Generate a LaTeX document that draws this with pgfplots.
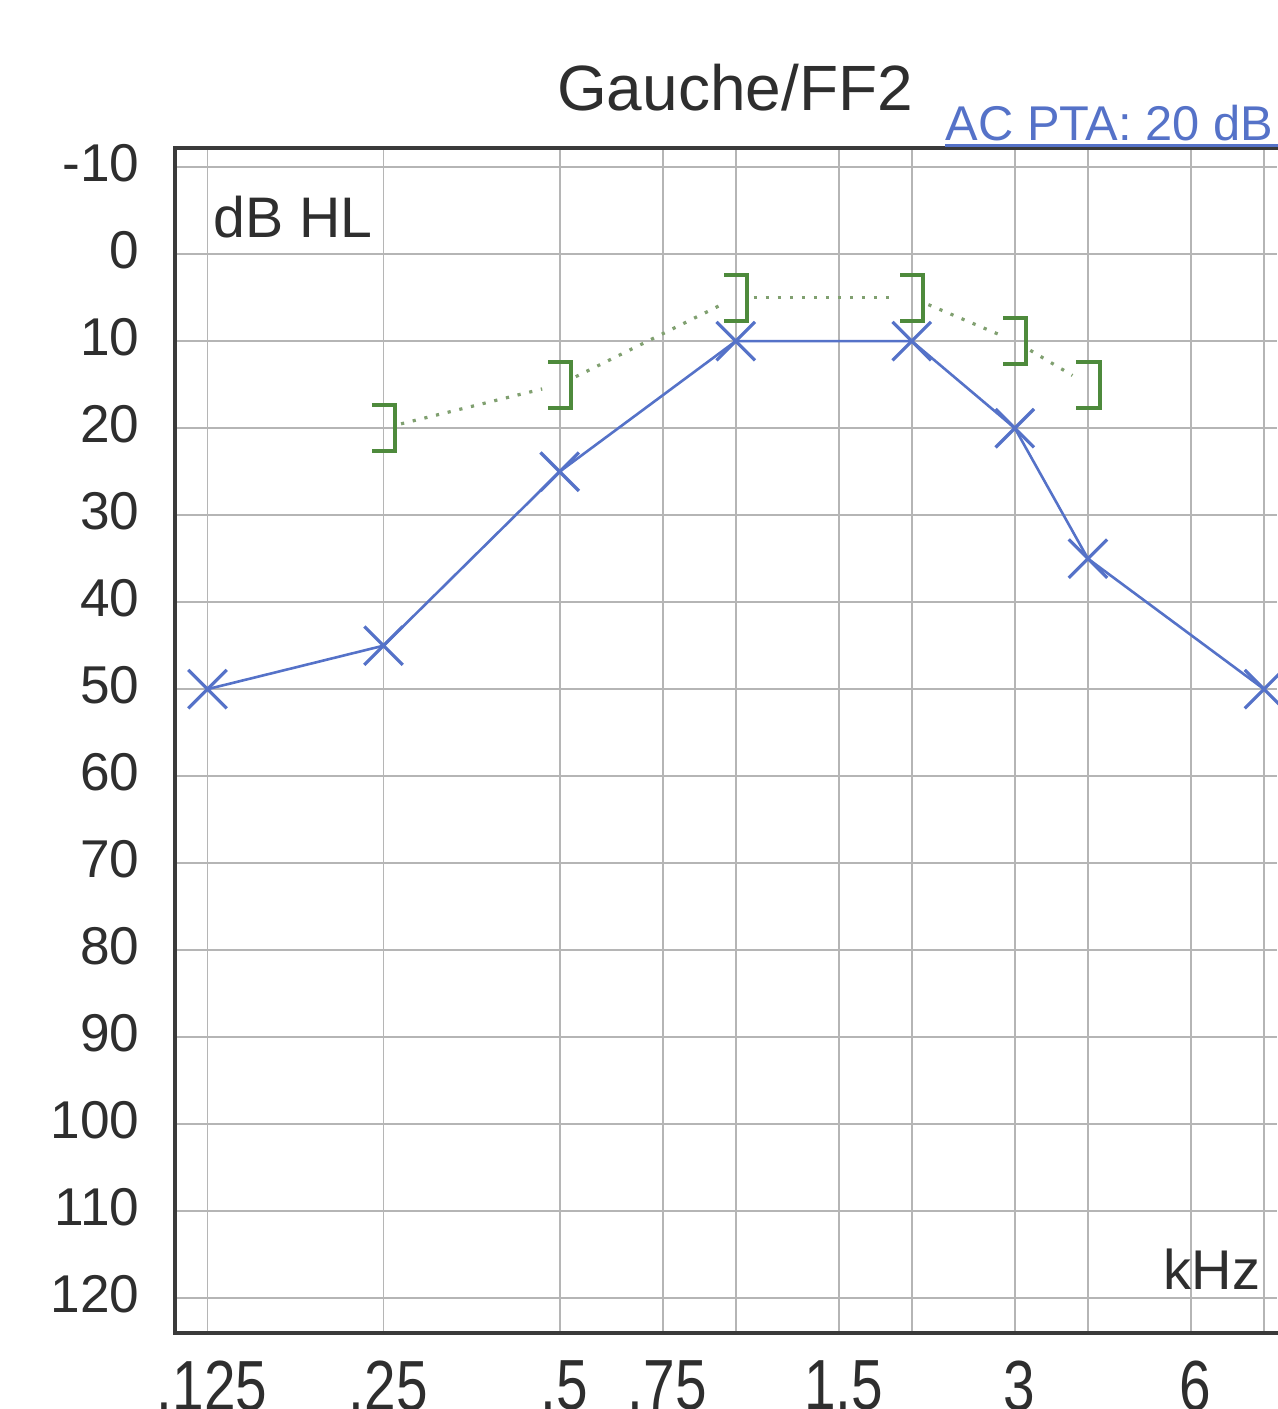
\documentclass[border=0pt]{standalone}
\usepackage{fontspec}
\setmainfont{Liberation Sans}
\usepackage{graphicx}
\usepackage{pgfplots}
\pgfplotsset{compat=1.18}
\definecolor{acblue}{HTML}{5572C8}
\definecolor{bcgreen}{HTML}{4E8A3C}
\definecolor{dotgreen}{HTML}{80A070}
\definecolor{gridgray}{HTML}{B5B5B5}
\definecolor{framegray}{HTML}{3A3A3A}
\definecolor{txt}{HTML}{2E2E2E}
\pgfdeclareplotmark{rbracket}{%
  \pgfpathmoveto{\pgfpoint{-2.9pt}{5.75pt}}%
  \pgfpathlineto{\pgfpoint{2.9pt}{5.75pt}}%
  \pgfpathlineto{\pgfpoint{2.9pt}{-5.75pt}}%
  \pgfpathlineto{\pgfpoint{-2.9pt}{-5.75pt}}%
  \pgfusepathqstroke}
\pgfplotsset{dotseg/.style={dotgreen, line width=0.8pt, dash pattern=on 0.8pt off 2.2pt, shorten <=4.5pt, shorten >=4.5pt, forget plot}}
\newcommand{\tl}[1]{\scalebox{1}[1.25]{#1}}
\begin{document}
\begin{tikzpicture}
\begin{axis}[
  at={(0pt,0pt)}, anchor=south west,
  scale only axis, width=275.5pt, height=296.25pt,
  xmode=log, log basis x=2,
  xmin=0.1100, xmax=8.42,
  y dir=reverse, ymin=-12.2, ymax=124,
  ytick={-10,0,10,20,30,40,50,60,70,80,90,100,110,120},
  yticklabels={-10,0,10,20,30,40,50,60,70,80,90,100,110,120},
  xtick={0.125,0.25,0.5,0.75,1,1.5,2,3,4,6,8},
  xticklabels={\tl{.125},\tl{.25},\tl{.5},\tl{.75},,\tl{1.5},,\tl{3},,\tl{6},},
  grid=major,
  major grid style={gridgray, line width=0.45pt},
  major tick length=0pt,
  axis line style={draw=none},
  tick label style={font=\fontsize{13.3}{16}\selectfont, text=txt},
  yticklabel style={anchor=east, inner sep=0pt, xshift=-8.75pt, yshift=1pt},
  xticklabel style={anchor=north, inner sep=0pt, yshift=-6.75pt, xshift=1.2pt, font=\fontsize{14.2}{17}\selectfont},
]
\addplot[dotseg] coordinates {(0.25,20)(0.5,15)};
\addplot[dotseg] coordinates {(0.5,15)(1,5)};
\addplot[dotseg] coordinates {(1,5)(2,5)};
\addplot[dotseg] coordinates {(2,5)(3,10)};
\addplot[dotseg] coordinates {(3,10)(4,15)};
\addplot[only marks, mark=rbracket, mark options={bcgreen, line width=1pt, solid}] coordinates {(0.25,20)(0.5,15)(1,5)(2,5)(3,10)(4,15)};
\addplot[acblue, line width=0.65pt, mark=x, mark size=6.8pt, mark options={line width=0.8pt, solid}] coordinates {(0.125,50)(0.25,45)(0.5,25)(1,10)(2,10)(3,20)(4,35)(8,50)};
\end{axis}
\node[anchor=base, font=\fontsize{16}{19}\selectfont, text=txt] at (140pt,305.5pt) {Gauche/FF2};
\node[anchor=base west, inner sep=0pt, font=\fontsize{12.2}{14}\selectfont, text=acblue] at (192.5pt,298pt) {AC PTA: 20 dB};
\node[anchor=base west, inner sep=0pt, font=\fontsize{14.3}{17}\selectfont, text=txt] at (9.5pt,273.75pt) {dB HL};
\node[anchor=base west, inner sep=0pt, font=\fontsize{14}{17}\selectfont, text=txt] at (247pt,10.75pt) {kHz};
\draw[framegray, line width=1pt] (280pt,296.25pt) -- (0pt,296.25pt) -- (0pt,0pt) -- (280pt,0pt);
\draw[acblue, line width=0.6pt] (192.5pt,296.9pt) -- (280pt,296.9pt);
\pgfresetboundingbox
\useasboundingbox (-43.75pt,-19pt) rectangle (275.5pt,333.25pt);
\end{tikzpicture}
\end{document}
